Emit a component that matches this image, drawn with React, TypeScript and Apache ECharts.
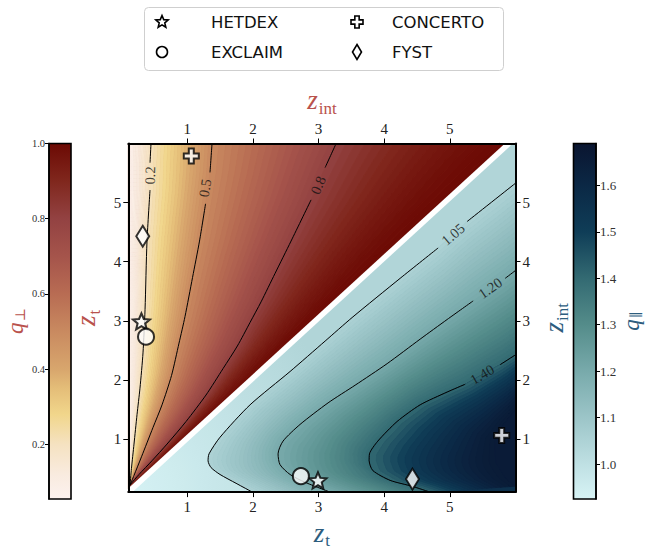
import React, { useEffect, useRef } from "react";
import * as echarts from "echarts";

type Pt = [number, number];

// ---------- axes ----------
const axisMin = 0.1;
const axisMax = 6.0;
const axisTickValues = [1, 2, 3, 4, 5];

// ---------- colour bars ----------
const qPerpRange: Pt = [0.055, 1.0];
const qPerpTicks = [0.2, 0.4, 0.6, 0.8, 1.0];
const qParRange: Pt = [0.925, 1.69];
const qParTicks = [1.0, 1.1, 1.2, 1.3, 1.4, 1.5, 1.6];

const qPerpCmap: [number, string][] = [
  [0.055, "#fcf2ef"], [0.12, "#f9ebdf"], [0.2, "#f5e2c1"], [0.28, "#f1d68b"],
  [0.35, "#e4bd78"], [0.4, "#d8a66d"], [0.5, "#c98a60"], [0.6, "#b86c53"],
  [0.7, "#a5544b"], [0.8, "#934242"], [0.9, "#80271d"], [1.0, "#6c0a04"],
];
const qParCmap: [number, string][] = [
  [0.925, "#d7f3f5"], [1.0, "#bfe0e3"], [1.1, "#9cc5c8"], [1.2, "#78aaab"],
  [1.3, "#548c8a"], [1.4, "#336a72"], [1.5, "#0f3d57"], [1.6, "#0b2845"], [1.69, "#0a1530"],
];

// ---------- surveys ----------
const surveyNames = ["HETDEX", "EXCLAIM", "CONCERTO", "FYST"];
const surveyZt = [2.99, 2.73, 5.79, 4.43];
const surveyZint = [0.3, 0.37, 1.06, 0.32];

// ---------- diagonal z_int = z_t and frame edges ----------
const diagonal: Pt[] = [[0.1, 0.1], [5.9, 6.0]];
const leftEdge: Pt[] = [[0.1, 6.0], [0.1, 0.1]];

// ---------- q_perp contours (x = z_int, y = z_t) ----------
const perpLevels = ["0.2", "0.5", "0.8"];
const perpBand: Pt[] = [[0.06, 0.2], [0.2, 0.5], [0.5, 0.8], [0.8, 1.0]];
const perp02A: Pt[] = [[0.446, 6.0], [0.431, 5.676]];
const perp02B: Pt[] = [[0.431, 5.212], [0.385, 4.349], [0.355, 3.187], [0.324, 2.456], [0.278, 1.859], [0.233, 1.411], [0.187, 0.913], [0.148, 0.498], [0.126, 0.216]];
const perp05A: Pt[] = [[1.376, 6.0], [1.345, 5.51]];
const perp05B: Pt[] = [[1.277, 4.979], [1.185, 4.349], [1.079, 3.734], [0.964, 3.071], [0.873, 2.622], [0.759, 2.075], [0.614, 1.577], [0.477, 1.195], [0.301, 0.697], [0.187, 0.382], [0.126, 0.216]];
const perp08A: Pt[] = [[3.267, 6.0], [3.099, 5.593]];
const perp08B: Pt[] = [[2.885, 5.046], [2.58, 4.349], [2.336, 3.801], [2.123, 3.32], [1.955, 2.971], [1.762, 2.573], [1.544, 2.191], [1.284, 1.743], [0.98, 1.295], [0.69, 0.913], [0.461, 0.631], [0.263, 0.398], [0.134, 0.232], [0.126, 0.216]];
const perpLabelAt: Pt[] = [[0.431, 5.46], [1.269, 5.245], [2.992, 5.295]];
const perpLabelAngle = [88, 81, 67];

// ---------- q_par contours (x = z_t, y = z_int) ----------
const parLevels = ["1.05", "1.20", "1.40"];
const parBand: Pt[] = [[0.93, 1.04], [1.05, 1.2], [1.2, 1.4], [1.4, 1.66]];
const par105A: Pt[] = [[6.0, 5.328], [5.263, 4.68]];
const par105B: Pt[] = [[4.821, 4.232], [4.242, 3.718], [3.51, 3.054], [3.099, 2.656], [2.565, 2.141], [1.955, 1.577], [1.498, 1.029], [1.33, 0.747], [1.315, 0.631], [1.361, 0.515], [1.498, 0.398], [1.742, 0.249], [1.99, 0.1]];
const par120A: Pt[] = [[6.0, 3.851], [5.843, 3.718]];
const par120B: Pt[] = [[5.355, 3.336], [4.958, 3.021], [4.547, 2.689], [4.044, 2.274], [3.556, 1.909], [3.144, 1.61], [2.717, 1.245], [2.458, 0.963], [2.382, 0.747], [2.412, 0.564], [2.565, 0.398], [2.794, 0.266], [3.175, 0.1]];
const par140A: Pt[] = [[6.0, 2.423], [5.767, 2.257]];
const par140B: Pt[] = [[5.233, 1.925], [4.958, 1.793], [4.547, 1.577], [4.196, 1.295], [3.902, 0.963], [3.775, 0.747], [3.77, 0.631], [3.826, 0.465], [4.089, 0.299], [4.425, 0.199], [4.699, 0.1]];
// estimated darkest ridge (q_par ~ 1.66), read from the shading
const par166Est: Pt[] = [[6.0, 1.5], [5.82, 1.25], [5.68, 0.95], [5.7, 0.6], [5.85, 0.33], [6.0, 0.2]];
const parLabelAt: Pt[] = [[5.05, 4.465], [5.614, 3.552], [5.492, 2.091]];
const parLabelAngle = [41, 35, 30];

// ---------- styling ----------
const SERIF = "'Liberation Serif', 'DejaVu Serif', serif";
const SANS = "'DejaVu Sans', sans-serif";
const RED = "#b9524c";
const BLUE = "#2d5d7e";

function hex(c: string): number[] {
  return [1, 3, 5].map((i) => parseInt(c.slice(i, i + 2), 16));
}
function cmapAt(cmap: [number, string][], q: number): string {
  if (q <= cmap[0][0]) return cmap[0][1];
  for (let i = 1; i < cmap.length; i++) {
    if (q <= cmap[i][0]) {
      const [q0, c0] = cmap[i - 1];
      const [q1, c1] = cmap[i];
      const t = (q - q0) / (q1 - q0);
      const a = hex(c0), b = hex(c1);
      return `rgb(${a.map((v, k) => Math.round(v + (b[k] - v) * t)).join(",")})`;
    }
  }
  return cmap[cmap.length - 1][1];
}
function ramp(cmap: [number, string][], q0: number, q1: number, warp = (t: number) => t) {
  const stops: { offset: number; color: string }[] = [];
  for (let i = 0; i <= 16; i++) {
    const t = i / 16;
    stops.push({ offset: t, color: cmapAt(cmap, q0 + (q1 - q0) * warp(t)) });
  }
  return stops;
}
function barStops(cmap: [number, string][], range: Pt) {
  return cmap.map(([v, c]) => ({ offset: (v - range[0]) / (range[1] - range[0]), color: c }));
}

// resample a pixel polyline to n points evenly spaced along its length
function resample(px: number[][], n: number): number[][] {
  const cum = [0];
  for (let i = 1; i < px.length; i++) cum.push(cum[i - 1] + Math.hypot(px[i][0] - px[i - 1][0], px[i][1] - px[i - 1][1]));
  const total = cum[cum.length - 1] || 1;
  const out: number[][] = [];
  let j = 0;
  for (let k = 0; k < n; k++) {
    const s = (total * k) / (n - 1);
    while (j < px.length - 2 && cum[j + 1] < s) j++;
    const seg = cum[j + 1] - cum[j] || 1;
    const t = Math.min(1, Math.max(0, (s - cum[j]) / seg));
    out.push([px[j][0] + (px[j + 1][0] - px[j][0]) * t, px[j][1] + (px[j + 1][1] - px[j][1]) * t]);
  }
  return out;
}

// shade the band between two boundary curves with thin strips of the colour map
function shadeBand(P: (p: Pt) => number[], left: Pt[], right: Pt[], q0: number, q1: number, cmap: [number, string][], warp = (t: number) => t) {
  const N = 90, K = 18;
  const a = resample(left.map(P), N);
  const b = resample(right.map(P), N);
  const curves: number[][][] = [];
  for (let k = 0; k <= K; k++) {
    const t = k / K;
    curves.push(a.map((p, i) => [p[0] + (b[i][0] - p[0]) * t, p[1] + (b[i][1] - p[1]) * t]));
  }
  const out: any[] = [];
  for (let k = 0; k < K; k++) {
    const color = cmapAt(cmap, q0 + (q1 - q0) * warp((k + 0.5) / K));
    out.push({
      type: "polygon",
      shape: { points: [...curves[k], ...curves[k + 1].slice().reverse()] },
      style: { fill: color, stroke: color, lineWidth: 0.8 },
      silent: true,
    });
  }
  return out;
}

function renderField(_params: any, api: any) {
  const P = (p: Pt) => api.coord(p) as number[];
  const poly = (pts: Pt[], fill: any) => ({
    type: "polygon",
    shape: { points: pts.map(P) },
    style: { fill, stroke: typeof fill === "string" ? fill : "none", lineWidth: 0.8 },
    silent: true,
  });
  const c02 = [...perp02A, ...perp02B];
  const c05 = [...perp05A, ...perp05B];
  const c08 = [...perp08A, ...perp08B];
  const c105 = [...par105A, ...par105B];
  const c120 = [...par120A, ...par120B];
  const c140 = [...par140A, ...par140B];
  const diagDown: Pt[] = diagonal.slice().reverse() as Pt[];
  const children: any[] = [];

  // base fills (cover any seams)
  children.push(poly([diagonal[0], [0.1, 6.0], diagonal[1]], cmapAt(qPerpCmap, 0.6)));
  children.push(poly([diagonal[0], diagonal[1], [6.0, 6.0], [6.0, 0.1]], cmapAt(qParCmap, 1.2)));

  // upper-left triangle: q_perp
  children.push(...shadeBand(P, leftEdge, c02, perpBand[0][0], perpBand[0][1], qPerpCmap));
  children.push(...shadeBand(P, c02, c05, perpBand[1][0], perpBand[1][1], qPerpCmap));
  children.push(...shadeBand(P, c05, c08, perpBand[2][0], perpBand[2][1], qPerpCmap));
  children.push(...shadeBand(P, c08, diagDown, perpBand[3][0], perpBand[3][1], qPerpCmap, (t) => 1 - Math.pow(1 - t, 1.6)));

  // lower-right triangle: q_par
  const A = P(diagonal[0]);
  children.push(poly([diagonal[0], diagonal[1], [6.0, 6.0], ...c105], new echarts.graphic.RadialGradient(A[0], A[1], 230, ramp(qParCmap, parBand[0][0], parBand[0][1]), true)));
  children.push(...shadeBand(P, c105, c120, parBand[1][0], parBand[1][1], qParCmap));
  children.push(...shadeBand(P, c120, c140, parBand[2][0], parBand[2][1], qParCmap));
  children.push(poly([...c140, [6.0, 0.1]], cmapAt(qParCmap, 1.56)));
  children.push(...shadeBand(P, c140, par166Est, parBand[3][0], parBand[3][1], qParCmap, (t) => 1 - Math.pow(1 - t, 1.5)));
  children.push(poly(par166Est, cmapAt(qParCmap, parBand[3][1])));
  return { type: "group", children };
}

function colorBar(range: Pt, cmap: [number, string][]) {
  return (_params: any, api: any) => {
    const p0 = api.coord([0, range[0]]);
    const p1 = api.coord([1, range[1]]);
    return {
      type: "rect",
      shape: { x: p0[0], y: p1[1], width: p1[0] - p0[0], height: p0[1] - p1[1] },
      style: {
        fill: new echarts.graphic.LinearGradient(p0[0], p0[1], p0[0], p1[1], barStops(cmap, range), true),
        stroke: "#000",
        lineWidth: 1.6,
      },
      silent: true,
    };
  };
}

function richName(color: string, big: number, small: number, drop: number) {
  return {
    color,
    rich: {
      z: { fontFamily: SERIF, fontStyle: "italic", fontSize: big, lineHeight: big, color, verticalAlign: "top" },
      s: { fontFamily: SERIF, fontSize: small, lineHeight: small, color, verticalAlign: "top", padding: [drop, 0, 0, 1] },
    },
  };
}

function mainAxis(position: string, extra: any) {
  return {
    type: "value",
    gridIndex: 0,
    position,
    min: axisMin,
    max: axisMax,
    z: 10,
    axisLine: { show: true, onZero: false, lineStyle: { color: "#000", width: 2 } },
    axisTick: { show: true, customValues: axisTickValues, length: 5, lineStyle: { color: "#000", width: 1 } },
    axisLabel: { show: true, customValues: axisTickValues, fontFamily: SERIF, fontSize: 15, color: "#222", margin: 7 },
    splitLine: { show: false },
    nameLocation: "middle",
    ...extra,
  };
}

function cbarAxis(gridIndex: number, position: string, range: Pt, ticks: number[], fontSize: number, extra: any) {
  return {
    type: "value",
    gridIndex,
    position,
    min: range[0],
    max: range[1],
    z: 10,
    axisLine: { show: true, onZero: false, lineStyle: { color: "#000", width: 1.5 } },
    axisTick: { show: true, customValues: ticks, length: 4, lineStyle: { color: "#000", width: 1 } },
    axisLabel: { show: true, customValues: ticks, fontFamily: SERIF, fontSize, color: "#333", margin: 4, formatter: (v: number) => v.toFixed(1) },
    splitLine: { show: false },
    nameLocation: "middle",
    nameRotate: 90,
    ...extra,
  };
}

const symbolFor = [
  { symbol: "path://M0,-1L0.265,-0.364L0.951,-0.309L0.428,0.139L0.588,0.809L0,0.45L-0.588,0.809L-0.428,0.139L-0.951,-0.309L-0.265,-0.364Z", size: [17, 16] },
  { symbol: "circle", size: 16 },
  { symbol: "path://M-0.33,-1L0.33,-1L0.33,-0.33L1,-0.33L1,0.33L0.33,0.33L0.33,1L-0.33,1L-0.33,0.33L-1,0.33L-1,-0.33L-0.33,-0.33Z", size: 15 },
  { symbol: "diamond", size: [13, 21] },
];

function starPts(cx: number, cy: number, r: number) {
  const pts: number[][] = [];
  for (let k = 0; k < 10; k++) {
    const a = -Math.PI / 2 + (k * Math.PI) / 5;
    const rr = k % 2 === 0 ? r : r * 0.45;
    pts.push([cx + rr * Math.cos(a), cy + rr * Math.sin(a)]);
  }
  return pts;
}
function plusPts(cx: number, cy: number, r: number) {
  const a = r * 0.36;
  return [[-a, -r], [a, -r], [a, -a], [r, -a], [r, a], [a, a], [a, r], [-a, r], [-a, a], [-r, a], [-r, -a], [-a, -a]].map(([x, y]) => [cx + x, cy + y]);
}

function buildOption() {
  const series: any[] = [];
  series.push({ type: "custom", coordinateSystem: "cartesian2d", xAxisIndex: 0, yAxisIndex: 0, renderItem: renderField, data: [[0, 0]], silent: true, z: 1 });
  series.push({ type: "line", xAxisIndex: 0, yAxisIndex: 0, data: diagonal, symbol: "none", lineStyle: { color: "#fff", width: 5.5 }, silent: true, z: 2 });

  const segLine = (data: Pt[], xi: number, yi: number) => ({
    type: "line", xAxisIndex: xi, yAxisIndex: yi, data, symbol: "none", smooth: 0.25,
    lineStyle: { color: "#000", width: 1 }, silent: true, z: 3,
  });
  [perp02A, perp02B, perp05A, perp05B, perp08A, perp08B].forEach((d) => series.push(segLine(d, 1, 0)));
  [par105A, par105B, par120A, par120B, par140A, par140B].forEach((d) => series.push(segLine(d, 0, 1)));

  const labelSeries = (names: string[], at: Pt[], ang: number[], xi: number, yi: number) => ({
    type: "scatter", xAxisIndex: xi, yAxisIndex: yi, symbolSize: 1, itemStyle: { color: "rgba(0,0,0,0)" }, silent: true, z: 4,
    label: { show: true, position: "inside", formatter: "{b}", fontFamily: SERIF, fontSize: 14.5, color: "#111" },
    data: at.map((p, i) => ({ name: names[i], value: p, label: { rotate: ang[i] } })),
  });
  series.push(labelSeries(perpLevels, perpLabelAt, perpLabelAngle, 1, 0));
  series.push(labelSeries(parLevels, parLabelAt, parLabelAngle, 0, 1));

  surveyNames.forEach((name, i) => {
    const common = {
      type: "scatter", name, symbol: symbolFor[i].symbol, symbolSize: symbolFor[i].size, z: 6,
      itemStyle: { color: "#fff", borderColor: "#000", borderWidth: 2 }, silent: true,
    };
    series.push({ ...common, xAxisIndex: 1, yAxisIndex: 0, data: [[surveyZint[i], surveyZt[i]]] });
    series.push({ ...common, xAxisIndex: 0, yAxisIndex: 1, data: [[surveyZt[i], surveyZint[i]]] });
  });

  series.push({ type: "custom", coordinateSystem: "cartesian2d", xAxisIndex: 2, yAxisIndex: 2, renderItem: colorBar(qPerpRange, qPerpCmap), data: [[0, 0]], silent: true });
  series.push({ type: "custom", coordinateSystem: "cartesian2d", xAxisIndex: 3, yAxisIndex: 3, renderItem: colorBar(qParRange, qParCmap), data: [[0, 0]], silent: true });

  const hiddenX = (gridIndex: number) => ({ type: "value", gridIndex, min: 0, max: 1, show: false });

  const legendX1 = 162, legendX2 = 357, textX1 = 211, textX2 = 392, row1 = 22, row2 = 52;
  const legendFont = `16.5px ${SANS}`;
  const sym = { fill: "#fff", stroke: "#000", lineWidth: 1.6 };
  const graphic = [
    { type: "rect", shape: { x: 144.5, y: 7.5, width: 359, height: 63, r: 4 }, style: { fill: "#fff", stroke: "#cfcfcf", lineWidth: 1 }, z: 100 },
    { type: "polygon", shape: { points: starPts(legendX1, row1, 6.5) }, style: sym, z: 101 },
    { type: "circle", shape: { cx: legendX1, cy: row2, r: 5.5 }, style: sym, z: 101 },
    { type: "polygon", shape: { points: plusPts(legendX2, row1, 6) }, style: sym, z: 101 },
    { type: "polygon", shape: { points: [[legendX2, row2 - 7.5], [legendX2 + 4.5, row2], [legendX2, row2 + 7.5], [legendX2 - 4.5, row2]] }, style: sym, z: 101 },
    { type: "text", x: textX1, y: row1, style: { text: surveyNames[0], font: legendFont, fill: "#111", verticalAlign: "middle" }, z: 101 },
    { type: "text", x: textX1, y: row2, style: { text: surveyNames[1], font: legendFont, fill: "#111", verticalAlign: "middle" }, z: 101 },
    { type: "text", x: textX2, y: row1, style: { text: surveyNames[2], font: legendFont, fill: "#111", verticalAlign: "middle" }, z: 101 },
    { type: "text", x: textX2, y: row2, style: { text: surveyNames[3], font: legendFont, fill: "#111", verticalAlign: "middle" }, z: 101 },
  ];

  return {
    animation: false,
    backgroundColor: "#fff",
    textStyle: { fontFamily: SERIF },
    grid: [
      { left: 128.3, top: 143.5, width: 387.2, height: 355.5 },
      { left: 49, top: 143.5, width: 22, height: 355.5 },
      { left: 573.5, top: 143.5, width: 22.5, height: 355.5 },
    ],
    xAxis: [
      mainAxis("bottom", { name: "{z|z}{s|t}", nameGap: 24, nameTextStyle: richName(BLUE, 27, 17, 13) }),
      mainAxis("top", { name: "{z|z}{s|int}", nameGap: 22, nameTextStyle: richName(RED, 27, 17, 13) }),
      hiddenX(1),
      hiddenX(2),
    ],
    yAxis: [
      mainAxis("left", { name: "{z|z}{s|t}", nameGap: 18, nameRotate: 90, nameTextStyle: richName(RED, 27, 17, 13) }),
      mainAxis("right", { name: "{z|z}{s|int}", nameGap: 18, nameRotate: 90, nameTextStyle: richName(BLUE, 27, 17, 13) }),
      cbarAxis(1, "left", qPerpRange, qPerpTicks, 10.5, { name: "{z|q}{s|⊥}", nameGap: 22, nameTextStyle: richName(RED, 23, 14, 9) }),
      cbarAxis(2, "right", qParRange, qParTicks, 13, { name: "{z|q}{s|∥}", nameGap: 24, nameTextStyle: richName(BLUE, 23, 14, 9) }),
    ],
    series,
    graphic,
  };
}

export default function App() {
  const ref = useRef<HTMLDivElement>(null);
  useEffect(() => {
    const chart = echarts.init(ref.current!, null, { renderer: "svg" });
    chart.setOption(buildOption() as any);
    return () => chart.dispose();
  }, []);
  return <div ref={ref} style={{ position: "absolute", left: 0, top: 0, width: 654, height: 554, background: "#fff" }} />;
}
